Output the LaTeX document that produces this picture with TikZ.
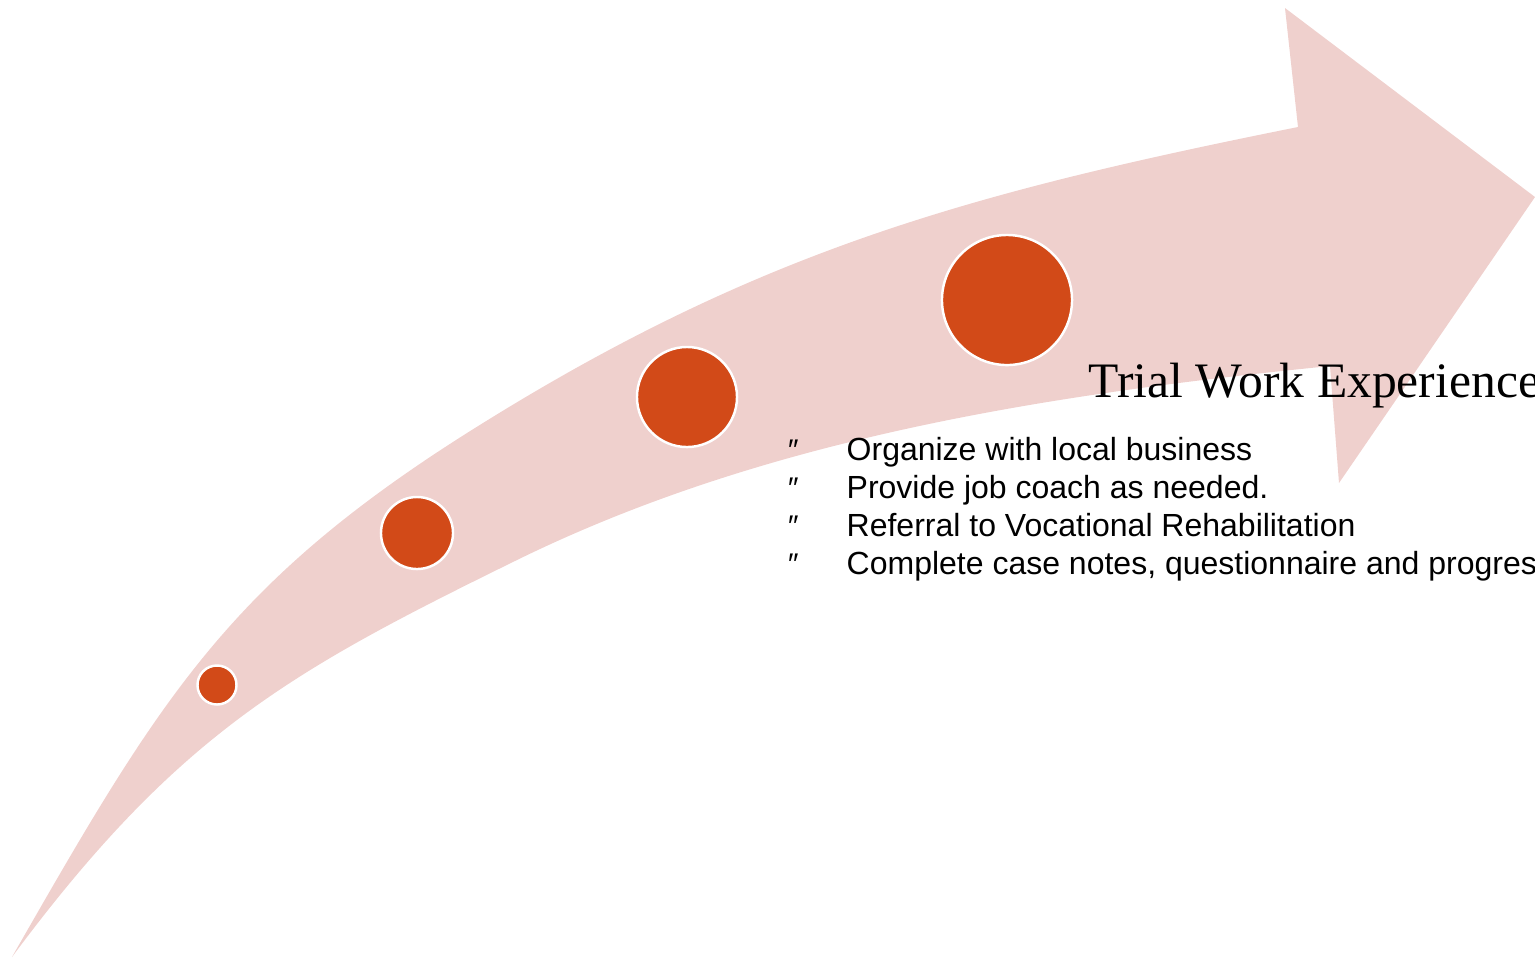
\documentclass[tikz,border=0pt]{standalone}
\usepackage{fontspec}
\setmainfont{Liberation Serif}
\newfontfamily\bulletfont{Liberation Sans}
\usepackage{tikz}
\usetikzlibrary{positioning}
\definecolor{bandpink}{RGB}{239,208,205}
\definecolor{dotorange}{RGB}{210,74,24}
\tikzset{dot/.style = {fill = dotorange, draw = white, line width = 0.7pt, circle, inner sep = 0}}
\tikzset{title/.style = {anchor = base west, inner sep = 0, font = \fontsize{14.1}{16}\selectfont}}
\tikzset{item/.style = {anchor = base west, inner sep = 0, font = \bulletfont\fontsize{9.1}{10.7}\selectfont}}
\tikzset{mark sign/.style = {item, font = \bulletfont\itshape\fontsize{8.5}{10.7}\selectfont}}

\begin{document}
\begin{tikzpicture}[x = 0.01cm, y = -0.01cm]
    \useasboundingbox (0, 0) rectangle (1535, 959);

    % curved band with its head
    \fill [bandpink] (12, 957)
        .. controls (161, 697) and (228, 581) .. (483, 423)
        .. controls (763, 249) and (974, 192) .. (1298, 127)
        -- (1285, 8) -- (1535, 197) -- (1339, 483) -- (1330, 366)
        .. controls (1051, 394) and (768, 437) .. (517, 560)
        .. controls (293, 670) and (179, 732) .. (12, 957)
        -- cycle;

    \node [dot, minimum size = 0.39cm] (d1) at (217, 685) {};
    \node [dot, minimum size = 0.72cm] (d2) at (417, 533) {};
    \node [dot, minimum size = 1.00cm] (d3) at (687, 397) {};
    \node [dot, minimum size = 1.30cm] (d4) at (1007, 300) {};

    \node [title] (head) at (1088, 397) {Trial Work Experience};

    \node [item] (t1) at (846, 460) {Organize with local business};
    \node [item] (t2) at (846, 498) {Provide job coach as needed.};
    \node [item] (t3) at (846, 536) {Referral to Vocational Rehabilitation};
    \node [item] (t4) at (846, 574) {Complete case notes, questionnaire and progress};

    \node [mark sign] (b1) at (786, 460) {″};
    \node [mark sign] (b2) at (786, 498) {″};
    \node [mark sign] (b3) at (786, 536) {″};
    \node [mark sign] (b4) at (786, 574) {″};
  \end{tikzpicture}
\end{document}
